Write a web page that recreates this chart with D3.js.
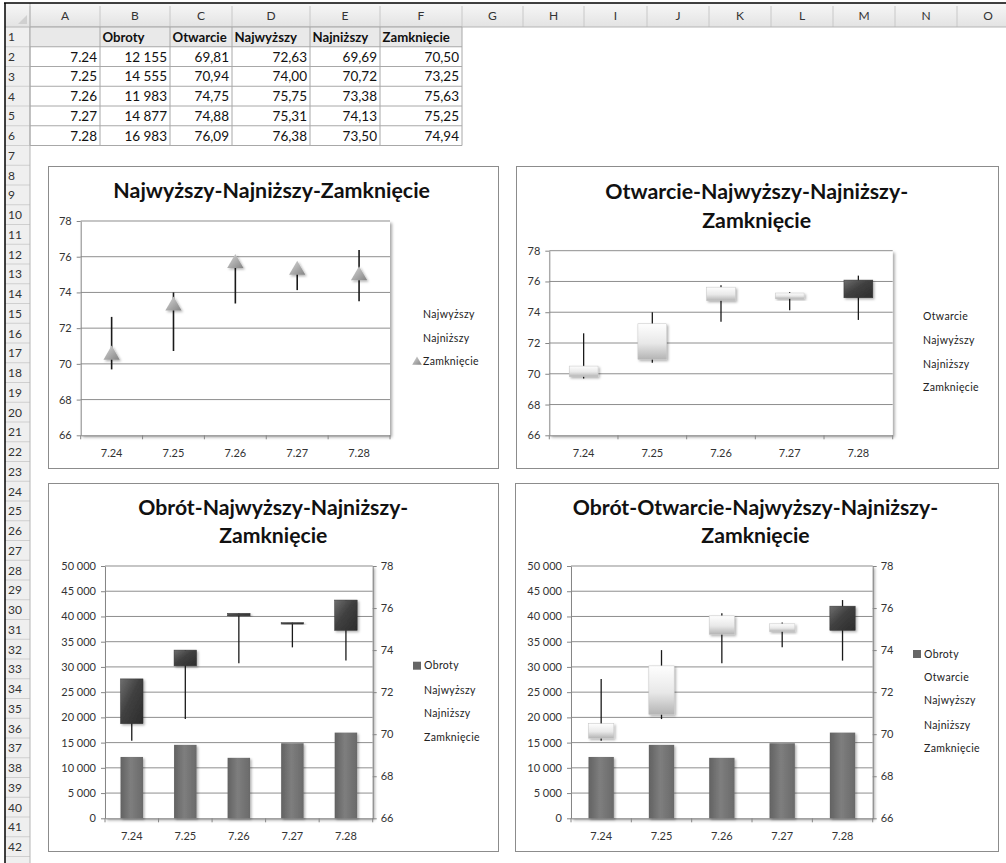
<!DOCTYPE html>
<html><head><meta charset="utf-8">
<script src="https://cdn.jsdelivr.net/npm/d3@7"></script>
<style>body{margin:0;background:#fff}svg{display:block}text{font-family:Lato,'Open Sans',sans-serif}</style>
</head><body>
<script>
// ---------- data ----------
const dates = ["7.24","7.25","7.26","7.27","7.28"];
const obroty = [12155,14555,11983,14877,16983];
const otwarcie = [69.81,70.94,74.75,74.88,76.09];
const najwyzszy = [72.63,74.00,75.75,75.31,76.38];
const najnizszy = [69.69,70.72,73.38,74.13,73.50];
const zamkniecie = [70.50,73.25,75.63,75.25,74.94];
const seriesNames = ["Obroty","Otwarcie","Najwyższy","Najniższy","Zamknięcie"];
const columnLetters = ["A","B","C","D","E","F","G","H","I","J","K","L","M","N","O"];
const priceTicks = [66,68,70,72,74,76,78];
const volumeTicks = [0,5000,10000,15000,20000,25000,30000,35000,40000,45000,50000];
const title1 = ["Najwyższy-Najniższy-Zamknięcie"];
const title2 = ["Otwarcie-Najwyższy-Najniższy-","Zamknięcie"];
const title3 = ["Obrót-Najwyższy-Najniższy-","Zamknięcie"];
const title4 = ["Obrót-Otwarcie-Najwyższy-Najniższy-","Zamknięcie"];

// ---------- helpers ----------
const pl = d3.formatLocale({decimal:",",thousands:"\u00a0",grouping:[3],currency:["","zł"]});
const fmtVol = pl.format(",.0f"), fmtPrice = pl.format(".2f"), fmtTick = pl.format(",");

const svg = d3.select("body").append("svg").attr("width",1006).attr("height",863);
svg.append("rect").attr("width",1006).attr("height",863).attr("fill","#fff");
const defs = svg.append("defs");
function lg(id,x2,y2,stops){const g=defs.append("linearGradient").attr("id",id).attr("x1",0).attr("y1",0).attr("x2",x2).attr("y2",y2);
  stops.forEach(([o,c])=>g.append("stop").attr("offset",o).attr("stop-color",c));}
lg("hdr",0,1,[[0,"#f7f7f7"],[1,"#e3e3e3"]]);
lg("bar",1,0,[[0,"#626262"],[0.45,"#7e7e7e"],[1,"#6a6a6a"]]);
lg("dark",1,1,[[0,"#6e6e6e"],[0.45,"#404040"],[1,"#2c2c2c"]]);
lg("light",0,1,[[0,"#fefefe"],[0.55,"#e8e8e8"],[1,"#b4b4b4"]]);
lg("tri",1,1,[[0,"#d8d8d8"],[1,"#848484"]]);
const fl = defs.append("filter").attr("id","sh").attr("x","-20%").attr("y","-20%").attr("width","150%").attr("height","150%");
fl.append("feDropShadow").attr("dx",2).attr("dy",2).attr("stdDeviation",1.6).attr("flood-color","#000").attr("flood-opacity",0.35);
const fl2 = defs.append("filter").attr("id","sh2").attr("x","-30%").attr("y","-30%").attr("width","170%").attr("height","170%");
fl2.append("feDropShadow").attr("dx",1.5).attr("dy",1.5).attr("stdDeviation",1).attr("flood-color","#000").attr("flood-opacity",0.3);

// ---------- spreadsheet ----------
const colEdges=[30,100,170,232,310,380,462,523,584,647,709,771,833,895,957,1019];
const headerTop=3, headerBottom=27, rowH=19.75, nRows=43, labelledRows=42;
const sheet = svg.append("g");
sheet.append("rect").attr("x",5).attr("y",headerTop).attr("width",1001).attr("height",headerBottom-headerTop).attr("fill","url(#hdr)");
sheet.append("rect").attr("x",5).attr("y",headerBottom).attr("width",25).attr("height",863-headerBottom).attr("fill","#efefef");
sheet.selectAll(".cs").data(colEdges).join("line").attr("x1",d=>d).attr("x2",d=>d).attr("y1",headerTop+3).attr("y2",headerBottom).attr("stroke","#c8c8c8");
sheet.selectAll(".cl").data(columnLetters).join("text").attr("x",(d,i)=>(colEdges[i]+colEdges[i+1])/2).attr("y",19.5)
  .attr("text-anchor","middle").attr("font-size",12).attr("fill","#333").text(d=>d);
const rowsIdx = d3.range(1,nRows+1);
sheet.selectAll(".rs").data(rowsIdx).join("line").attr("x1",5).attr("x2",30).attr("y1",r=>headerBottom+r*rowH).attr("y2",r=>headerBottom+r*rowH).attr("stroke","#cfcfcf");
sheet.selectAll(".rn").data(d3.range(1,labelledRows+1)).join("text").attr("x",8).attr("y",r=>headerBottom+(r-0.5)*rowH+4.5).attr("font-size",12).attr("fill","#333").text(r=>r);
sheet.append("line").attr("x1",30).attr("x2",30).attr("y1",headerTop).attr("y2",863).attr("stroke","#b5b5b5");
sheet.append("line").attr("x1",5).attr("x2",1006).attr("y1",headerBottom).attr("y2",headerBottom).attr("stroke","#b5b5b5");
sheet.append("path").attr("d","M27,24 L27,15 L18,24 Z").attr("fill","#d0d0d0");
sheet.append("line").attr("x1",4).attr("x2",1006).attr("y1",3).attr("y2",3).attr("stroke","#000").attr("stroke-width",1.5);
sheet.append("line").attr("x1",5).attr("x2",5).attr("y1",3).attr("y2",863).attr("stroke","#000").attr("stroke-width",1.5);

// table A1:F6
const tTop = headerBottom;
sheet.append("rect").attr("x",colEdges[0]).attr("y",tTop).attr("width",colEdges[6]-colEdges[0]).attr("height",rowH).attr("fill","#e9e9e9");
d3.range(0,7).forEach(r=>sheet.append("line").attr("x1",colEdges[0]).attr("x2",colEdges[6]).attr("y1",tTop+r*rowH).attr("y2",tTop+r*rowH).attr("stroke","#a8a8a8"));
d3.range(0,7).forEach(c=>sheet.append("line").attr("x1",colEdges[c]).attr("x2",colEdges[c]).attr("y1",tTop).attr("y2",tTop+6*rowH).attr("stroke","#a8a8a8"));
seriesNames.forEach((s,i)=>sheet.append("text").attr("x",colEdges[i+1]+2.5).attr("y",tTop+rowH/2+5).attr("font-size",13.2).attr("font-weight","bold").attr("fill","#111").text(s));
const tableCols = [dates, obroty.map(fmtVol), otwarcie.map(fmtPrice), najwyzszy.map(fmtPrice), najnizszy.map(fmtPrice), zamkniecie.map(fmtPrice)];
tableCols.forEach((col,c)=>col.forEach((v,r)=>sheet.append("text").attr("x",colEdges[c+1]-3).attr("y",tTop+(r+1.5)*rowH+5)
  .attr("text-anchor","end").attr("font-size",13.5).attr("fill","#111").text(v)));

// ---------- chart helpers ----------
function frame(b){svg.append("rect").attr("x",b[0]+0.5).attr("y",b[1]+0.5).attr("width",b[2]-b[0]).attr("height",b[3]-b[1]).attr("fill","#fff").attr("stroke","#8c8c8c");}
function title(lines,cx,baselines,w){
  const t=lines.map((s,i)=>svg.append("text").attr("x",cx).attr("y",baselines[i]).attr("text-anchor","middle").attr("font-weight","bold").attr("font-size",20).attr("fill","#111").text(s));
  const k=w/t[0].node().getComputedTextLength(); t.forEach(e=>e.attr("font-size",20*k));
}
function plotBg(p){svg.append("rect").attr("x",p.x0).attr("y",p.y0).attr("width",p.x1-p.x0).attr("height",p.y1-p.y0).attr("fill","#fff").attr("filter","url(#sh)");}
function grid(scale,ticks,p){svg.append("g").selectAll("line").data(ticks.slice(1)).join("line").attr("x1",p.x0).attr("x2",p.x1)
  .attr("y1",d=>scale(d)).attr("y2",d=>scale(d)).attr("stroke","#8e8e8e").attr("stroke-width",1);}
function styleAxis(g){g.selectAll("path,line").attr("stroke","#868686");g.selectAll("text").attr("font-size",11).attr("fill","#333").attr("font-family","Lato,sans-serif");}
function yLeft(scale,ticks,x,fmt){const g=svg.append("g").attr("transform",`translate(${x},0)`)
  .call(d3.axisLeft(scale).tickValues(ticks).tickFormat(fmt).tickSize(4).tickPadding(5).tickSizeOuter(0));styleAxis(g);}
function yRight(scale,ticks,x,fmt){const g=svg.append("g").attr("transform",`translate(${x},0)`)
  .call(d3.axisRight(scale).tickValues(ticks).tickFormat(fmt).tickSize(4).tickPadding(4).tickSizeOuter(0));styleAxis(g);}
function xAxis(x,yb){const g=svg.append("g").attr("transform",`translate(0,${yb})`)
  .call(d3.axisBottom(x).tickSize(0).tickPadding(14).tickSizeOuter(0));styleAxis(g);
  const edges=x.domain().map(d=>x(d)).concat([x.range()[1]]);
  g.selectAll(".edge").data(edges).join("line").attr("x1",d=>d).attr("x2",d=>d).attr("y1",0).attr("y2",4).attr("stroke","#868686");}
function legend(items,x,ys,marker,mx){
  items.forEach((s,i)=>svg.append("text").attr("x",x).attr("y",ys[i]).attr("dy","0.35em").attr("font-size",10.5).attr("letter-spacing",0.35).attr("fill","#222").text(s));
  if(marker==="tri") svg.append("path").attr("d",d3.symbol(d3.symbolTriangle,40)()).attr("transform",`translate(${mx+4},${ys[2]+1})`).attr("fill","url(#tri)");
  if(marker==="sq") svg.append("rect").attr("x",mx).attr("y",ys[0]-4).attr("width",8).attr("height",8).attr("fill","#666");
}
function hlLines(x,y,w){svg.append("g").selectAll("line").data(dates).join("line")
  .attr("x1",d=>x(d)+x.bandwidth()/2).attr("x2",d=>x(d)+x.bandwidth()/2)
  .attr("y1",(d,i)=>y(najwyzszy[i])).attr("y2",(d,i)=>y(najnizszy[i])).attr("stroke","#1a1a1a").attr("stroke-width",w);}
function candles(x,y,openV,closeV){const bw=x.bandwidth()*0.42;
  svg.append("g").selectAll("rect").data(dates).join("rect")
  .attr("x",d=>x(d)+(x.bandwidth()-bw)/2).attr("width",bw)
  .attr("y",(d,i)=>y(Math.max(openV[i],closeV[i]))).attr("height",(d,i)=>Math.max(1.5,Math.abs(y(openV[i])-y(closeV[i]))))
  .attr("fill",(d,i)=>closeV[i]>=openV[i]?"url(#light)":"url(#dark)").attr("stroke",(d,i)=>closeV[i]>=openV[i]?"#c4c4c4":"#333").attr("stroke-width",0.5)
  .attr("filter","url(#sh2)");}
function bars(x,yv){const bw=x.bandwidth()*0.42;
  svg.append("g").selectAll("rect").data(dates).join("rect")
  .attr("x",d=>x(d)+(x.bandwidth()-bw)/2).attr("width",bw)
  .attr("y",(d,i)=>yv(obroty[i])).attr("height",(d,i)=>yv(0)-yv(obroty[i])).attr("fill","url(#bar)").attr("filter","url(#sh2)");}

// ---------- chart 1 ----------
{const p={x0:80.7,x1:390,y0:221,y1:435.3};
 frame([48,166,498,468]); title(title1,271.7,[198],317);
 plotBg(p);
 const x=d3.scaleBand().domain(dates).range([p.x0,p.x1]);
 const y=d3.scaleLinear().domain([66,78]).range([p.y1,p.y0]);
 grid(y,priceTicks,p); yLeft(y,priceTicks,p.x0,d=>d); xAxis(x,p.y1);
 hlLines(x,y,1.6);
 svg.append("g").selectAll("path").data(dates).join("path").attr("d",d3.symbol(d3.symbolTriangle,115)())
   .attr("transform",(d,i)=>`translate(${x(d)+x.bandwidth()/2},${y(zamkniecie[i])})`).attr("fill","url(#tri)").attr("filter","url(#sh2)");
 legend(["Najwyższy","Najniższy","Zamknięcie"],423,[314,338,361],"tri",413);
}
// ---------- chart 2 ----------
{const p={x0:549.3,x1:892.7,y0:250.7,y1:435.3};
 frame([516,166,998,468]); title(title2,756.7,[199.3,227.7],303);
 plotBg(p);
 const x=d3.scaleBand().domain(dates).range([p.x0,p.x1]);
 const y=d3.scaleLinear().domain([66,78]).range([p.y1,p.y0]);
 grid(y,priceTicks,p); yLeft(y,priceTicks,p.x0,d=>d); xAxis(x,p.y1);
 hlLines(x,y,1.3); candles(x,y,otwarcie,zamkniecie);
 legend(["Otwarcie","Najwyższy","Najniższy","Zamknięcie"],923,[316.7,340,364,387.7],null);
}
// ---------- chart 3 ----------
{const p={x0:105,x1:372.7,y0:566,y1:818.3};
 frame([48,483,498,851]); title(title3,273.3,[515,543],270);
 plotBg(p);
 const x=d3.scaleBand().domain(dates).range([p.x0,p.x1]);
 const yv=d3.scaleLinear().domain([0,50000]).range([p.y1,p.y0]);
 const y=d3.scaleLinear().domain([66,78]).range([p.y1,p.y0]);
 grid(yv,volumeTicks,p); yLeft(yv,volumeTicks,p.x0,fmtTick); yRight(y,priceTicks,p.x1,d=>d); xAxis(x,p.y1);
 bars(x,yv); hlLines(x,y,1.3); candles(x,y,najwyzszy,zamkniecie);
 legend(["Obroty","Najwyższy","Najniższy","Zamknięcie"],424,[665.7,690,713,737],"sq",413);
}
// ---------- chart 4 ----------
{const p={x0:571,x1:872.7,y0:566,y1:818.3};
 frame([515,483,998,851]); title(title4,755.5,[514.5,543],365.7);
 plotBg(p);
 const x=d3.scaleBand().domain(dates).range([p.x0,p.x1]);
 const yv=d3.scaleLinear().domain([0,50000]).range([p.y1,p.y0]);
 const y=d3.scaleLinear().domain([66,78]).range([p.y1,p.y0]);
 grid(yv,volumeTicks,p); yLeft(yv,volumeTicks,p.x0,fmtTick); yRight(y,priceTicks,p.x1,d=>d); xAxis(x,p.y1);
 bars(x,yv); hlLines(x,y,1.3); candles(x,y,otwarcie,zamkniecie);
 legend(seriesNames,924,[654,677,700.7,725,748],"sq",913);
}
</script>
</body></html>
